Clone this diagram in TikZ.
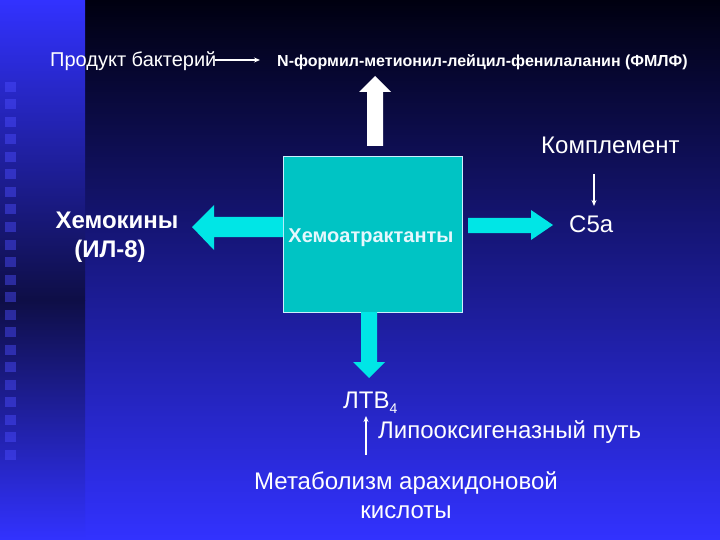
\documentclass[tikz,border=0pt]{standalone}
\usepackage{fontspec}
\setmainfont{Liberation Sans}
\usetikzlibrary{arrows.meta}
\definecolor{cy}{RGB}{0,230,230}
\definecolor{boxc}{RGB}{0,196,196}
\definecolor{bgtop}{RGB}{0,0,16}
\definecolor{bgbot}{RGB}{50,50,255}
\definecolor{stripmid}{RGB}{14,14,70}
\begin{document}
\begin{tikzpicture}[x=1pt,y=-1pt,
  txt/.style={text=white,inner sep=0pt,anchor=base west},
  thin arrow/.style={draw=white,line width=1.2pt,-{Stealth[length=6pt,width=5pt]}}]
\useasboundingbox (0,0) rectangle (720,540);
\shade[top color=bgtop,bottom color=bgbot] (85,0) rectangle (720,540);
\shade[top color=bgbot,bottom color=stripmid] (0,0) rectangle (85,300);
\shade[top color=stripmid,bottom color=bgbot] (0,300) rectangle (85,540);
\foreach \i in {0,...,21} \fill[blue!70!white,opacity=0.45] (5,{82+\i*17.5}) rectangle (16,{92+\i*17.5});
% box
\node[draw=white!80!cyan,line width=0.6pt,fill=boxc,minimum width=179pt,minimum height=156pt,inner sep=0pt] (box) at (372.5,234) {};
\node[text=white!90!cyan,font=\bfseries\fontsize{20}{24}\selectfont,anchor=base] (chem) at (371,242) {Хемоатрактанты};
% arrows
\fill[white] (367,146) -- (367,92) -- (359,92) -- (375,76) -- (391,92) -- (383,92) -- (383,146) -- cycle;
\fill[cy] (283,217) -- (214,217) -- (214,205) -- (192,227) -- (214,250) -- (214,237) -- (283,237) -- cycle;
\fill[cy] (468,218) -- (531,218) -- (531,210) -- (553,225) -- (531,240) -- (531,233) -- (468,233) -- cycle;
\fill[cy] (361,312) -- (361,362) -- (353,362) -- (369,378) -- (385,362) -- (377,362) -- (377,312) -- cycle;
% texts
\node[txt,font=\fontsize{20}{24}\selectfont] (prod) at (50,67) {Продукт бактерий};
\node[txt,font=\bfseries\fontsize{16}{19}\selectfont] (fmlf) at (277,67) {N-формил-метионил-лейцил-фенилаланин (ФМЛФ)};
\draw[thin arrow] (215,60) -- (260,60);
\node[txt,font=\fontsize{24}{28}\selectfont] (kompl) at (541,154) {Комплемент};
\node[txt,font=\fontsize{24}{28}\selectfont] (c5a) at (569,233) {C5a};
\draw[thin arrow] (594,174) -- (594,206);
\node[text=white,font=\bfseries\fontsize{24}{28}\selectfont,inner sep=0pt,anchor=base] (hem) at (117,229) {Хемокины};
\node[text=white,font=\bfseries\fontsize{24}{28}\selectfont,inner sep=0pt,anchor=base] (il) at (110,257) {(ИЛ-8)};
\node[txt,font=\fontsize{24}{28}\selectfont] (ltb) at (343,408) {ЛТВ{\fontsize{14}{16}\selectfont\raisebox{-5pt}{4}}};
\node[txt,font=\fontsize{24}{28}\selectfont] (lipo) at (378,438) {Липооксигеназный путь};
\draw[thin arrow] (366,455) -- (366,416);
\node[text=white,font=\fontsize{24}{28}\selectfont,inner sep=0pt,anchor=base] (meta) at (406,489) {Метаболизм арахидоновой};
\node[text=white,font=\fontsize{24}{28}\selectfont,inner sep=0pt,anchor=base] (kisl) at (406,518) {кислоты};
\end{tikzpicture}
\end{document}
